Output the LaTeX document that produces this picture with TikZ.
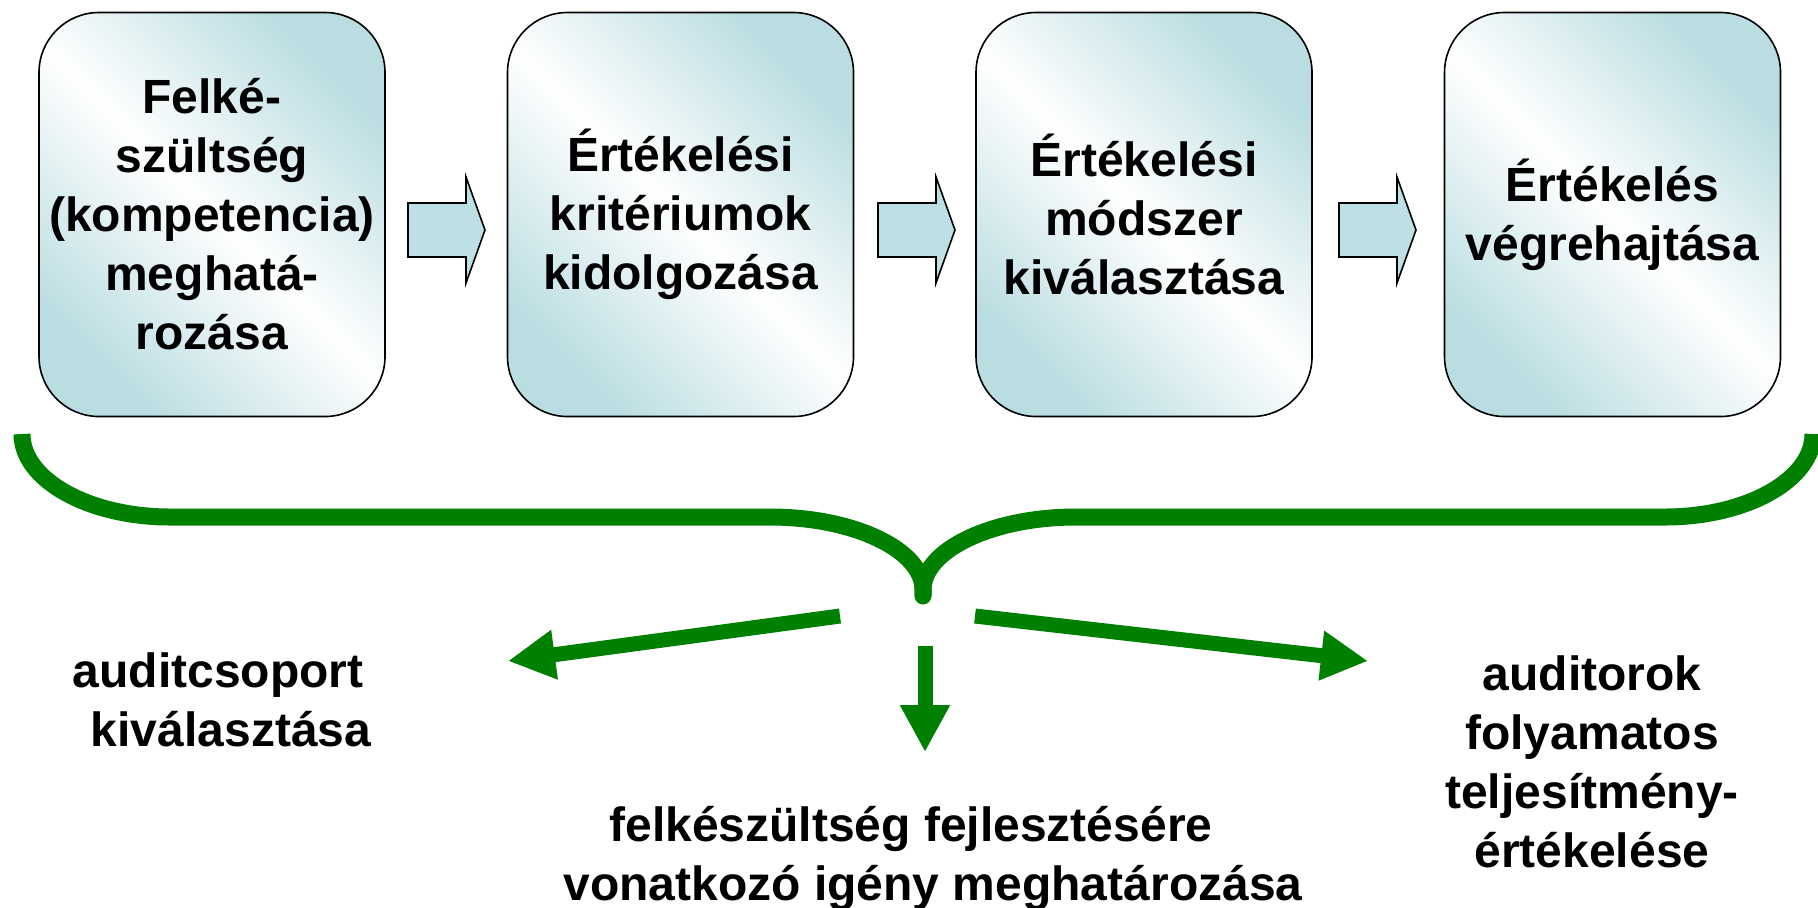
\documentclass[tikz,border=0pt]{standalone}
\usepackage{fontspec}
\setmainfont{Liberation Sans}
\usetikzlibrary{arrows.meta}
\definecolor{boxteal}{RGB}{186,221,225}
\definecolor{arrteal}{RGB}{188,224,227}
\definecolor{brgreen}{RGB}{0,128,0}
\tikzset{
  stepbox/.style={draw=black, line width=0.8pt, rounded corners=30pt,
    minimum width=173pt, minimum height=202pt, inner sep=0pt,
    shading=axis, top color=boxteal, bottom color=boxteal, middle color=white,
    shading angle=-45, align=center, font=\fontsize{24pt}{29.5pt}\selectfont\bfseries},
  lbl/.style={align=center, inner sep=0pt, font=\fontsize{24pt}{29.5pt}\selectfont\bfseries},
  brace/.style={draw=brgreen, line width=8.5pt, line cap=butt},
  garrow/.style={draw=brgreen, line width=7.5pt, -{Triangle[length=23.5pt,width=23.5pt]}},
  barrow/.pic={\draw[fill=arrteal, line width=0.8pt, line join=miter]
     (0,-27) -- (58,-27) -- (58,-53) -- (77,0) -- (58,53) -- (58,27) -- (0,27) -- cycle;}
}
\begin{document}
\begin{tikzpicture}[x=0.5pt,y=-0.5pt]
\useasboundingbox (0,0) rectangle (1818,907);
% boxes
\node[stepbox] (b1) at (212,214.5) {Felké-\\szültség\\(kompetencia)\\meghatá-\\rozása};
\node[stepbox] (b2) at (680.5,214.5) {Értékelési\\kritériumok\\kidolgozása};
\node[stepbox, minimum width=168pt] (b3) at (1144,214.5) {Értékelési\\módszer\\kiválasztása};
\node[stepbox, minimum width=168pt] (b4) at (1612.5,214.5) {Értékelés\\végrehajtása};
% block arrows
\pic at (408,230) {barrow};
\pic at (878,230) {barrow};
\pic at (1339,230) {barrow};
% brace
\coordinate (bl) at (22,434);
\coordinate (br) at (1813,434);
\coordinate (bt) at (923,590);
\draw[brace] (bl) .. controls (22,480) and (89,517) .. (170,517) -- (770,517)
   .. controls (854,517) and (923,550) .. (bt) -- (923,596);
\draw[brace] (br) .. controls (1813,480) and (1746,517) .. (1665,517) -- (1076,517)
   .. controls (992,517) and (923,550) .. (bt) -- (923,596);
\fill[brgreen] (923,596) circle (4.25pt);
% output arrows
\coordinate (la0) at (840,616);
\coordinate (la1) at (508,661);
\coordinate (ra0) at (975,616);
\coordinate (ra1) at (1368,661);
\coordinate (da0) at (925,646);
\coordinate (da1) at (925,752);
\draw[garrow] (la0) -- (la1);
\draw[garrow] (ra0) -- (ra1);
\draw[garrow] (da0) -- (da1);
% bottom texts
\node[lbl] (t1) at (231,700) {auditcsoport\hspace*{13pt}\\kiválasztása};
\node[lbl] (t2) at (933,858) {felkészültség fejlesztésére\hspace*{22pt}\\vonatkozó igény meghatározása};
\node[lbl] (t3) at (1592,762) {auditorok\\folyamatos\\teljesítmény-\\értékelése};
\end{tikzpicture}
\end{document}
